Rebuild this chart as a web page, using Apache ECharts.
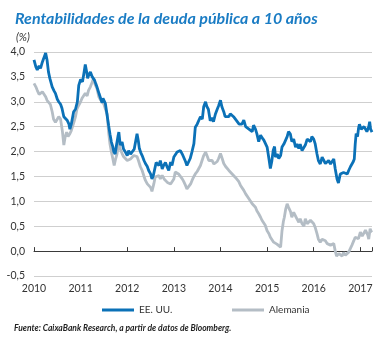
<!DOCTYPE html>
<html>
<head>
<meta charset="utf-8">
<script src="https://cdn.jsdelivr.net/npm/echarts@6/dist/echarts.min.js"></script>
<style>
  html, body { margin: 0; padding: 0; background: #fff; }
  #chart { width: 379px; height: 338px; }
</style>
</head>
<body>
<div id="chart"></div>
<script>
// 10-year government bond yields (%), dates as decimal years
const usDates = [
  2010.00, 2010.04, 2010.07, 2010.11, 2010.14, 2010.18, 2010.20, 2010.25, 2010.28, 2010.31,
  2010.34, 2010.39, 2010.43, 2010.46, 2010.50, 2010.53, 2010.57, 2010.60, 2010.64, 2010.68,
  2010.71, 2010.75, 2010.77, 2010.80, 2010.82, 2010.85, 2010.89, 2010.93, 2010.96, 2011.00,
  2011.04, 2011.07, 2011.10, 2011.13, 2011.15, 2011.18, 2011.21, 2011.25, 2011.28, 2011.30,
  2011.33, 2011.35, 2011.40, 2011.43, 2011.46, 2011.48, 2011.51, 2011.53, 2011.57, 2011.60,
  2011.63, 2011.66, 2011.69, 2011.71, 2011.74, 2011.77, 2011.80, 2011.82, 2011.85, 2011.89,
  2011.92, 2011.96, 2012.00, 2012.03, 2012.07, 2012.10, 2012.15, 2012.18, 2012.21, 2012.24,
  2012.26, 2012.29, 2012.32, 2012.36, 2012.39, 2012.43, 2012.46, 2012.50, 2012.53, 2012.56,
  2012.59, 2012.62, 2012.64, 2012.68, 2012.71, 2012.75, 2012.78, 2012.82, 2012.86, 2012.89,
  2012.93, 2012.96, 2013.00, 2013.04, 2013.07, 2013.10, 2013.14, 2013.18, 2013.21, 2013.25,
  2013.28, 2013.32, 2013.35, 2013.39, 2013.43, 2013.46, 2013.50, 2013.53, 2013.57, 2013.61,
  2013.64, 2013.68, 2013.71, 2013.74, 2013.78, 2013.82, 2013.85, 2013.89, 2013.93, 2013.96,
  2014.00, 2014.03, 2014.07, 2014.10, 2014.14, 2014.18, 2014.21, 2014.25, 2014.28, 2014.32,
  2014.36, 2014.40, 2014.43, 2014.46, 2014.50, 2014.54, 2014.57, 2014.61, 2014.64, 2014.68,
  2014.71, 2014.75, 2014.78, 2014.82, 2014.86, 2014.89, 2014.93, 2014.96, 2015.00, 2015.04,
  2015.07, 2015.10, 2015.13, 2015.16, 2015.18, 2015.22, 2015.25, 2015.29, 2015.32, 2015.36,
  2015.39, 2015.43, 2015.46, 2015.50, 2015.53, 2015.57, 2015.61, 2015.64, 2015.68, 2015.71,
  2015.75, 2015.78, 2015.82, 2015.86, 2015.89, 2015.93, 2015.96, 2016.00, 2016.03, 2016.07,
  2016.10, 2016.14, 2016.18, 2016.21, 2016.25, 2016.29, 2016.32, 2016.36, 2016.39, 2016.43,
  2016.46, 2016.50, 2016.53, 2016.57, 2016.61, 2016.64, 2016.68, 2016.72, 2016.75, 2016.79,
  2016.82, 2016.85, 2016.87, 2016.89, 2016.91, 2016.94, 2016.96, 2016.98, 2017.00, 2017.02,
  2017.05, 2017.08, 2017.11, 2017.14, 2017.16, 2017.18, 2017.20, 2017.22, 2017.25
];
const usYields = [
  3.84, 3.70, 3.64, 3.72, 3.67, 3.80, 3.78, 3.98, 3.84, 3.60,
  3.47, 3.30, 3.22, 3.17, 3.05, 3.00, 2.95, 2.87, 2.70, 2.72,
  2.63, 2.55, 2.45, 2.55, 2.59, 2.80, 2.85, 3.00, 3.33, 3.45,
  3.40, 3.57, 3.75, 3.60, 3.47, 3.55, 3.60, 3.50, 3.47, 3.43,
  3.35, 3.30, 3.15, 3.13, 2.98, 3.07, 3.10, 2.97, 2.93, 2.53,
  2.35, 2.19, 2.10, 2.00, 1.95, 2.13, 2.30, 2.39, 2.13, 2.19,
  2.05, 1.99, 1.92, 2.02, 1.95, 1.99, 2.05, 2.09, 2.36, 2.20,
  2.06, 1.98, 1.92, 1.82, 1.76, 1.70, 1.62, 1.55, 1.45, 1.52,
  1.65, 1.78, 1.79, 1.72, 1.82, 1.65, 1.72, 1.78, 1.68, 1.62,
  1.79, 1.72, 1.89, 1.90, 1.99, 1.95, 2.02, 1.95, 1.92, 1.80,
  1.72, 1.80, 1.86, 2.00, 2.16, 2.49, 2.55, 2.59, 2.70, 2.65,
  2.90, 3.00, 2.90, 2.85, 2.62, 2.68, 2.60, 2.75, 2.85, 2.92,
  3.03, 2.90, 2.80, 2.70, 2.73, 2.70, 2.76, 2.72, 2.70, 2.65,
  2.66, 2.55, 2.59, 2.55, 2.63, 2.50, 2.53, 2.45, 2.49, 2.40,
  2.53, 2.45, 2.36, 2.20, 2.33, 2.28, 2.23, 2.17, 2.09, 1.85,
  1.66, 1.80, 2.02, 2.10, 1.89, 1.95, 1.86, 1.92, 2.09, 2.15,
  2.19, 2.30, 2.40, 2.35, 2.20, 2.25, 2.09, 2.15, 2.06, 2.15,
  2.02, 2.05, 2.13, 2.25, 2.23, 2.20, 2.30, 2.25, 2.16, 1.95,
  1.82, 1.75, 1.89, 1.90, 1.76, 1.80, 1.82, 1.75, 1.72, 1.85,
  1.66, 1.45, 1.37, 1.55, 1.52, 1.58, 1.59, 1.55, 1.62, 1.70,
  1.69, 1.80, 1.85, 2.15, 2.36, 2.30, 2.46, 2.55, 2.59, 2.45,
  2.43, 2.50, 2.46, 2.40, 2.36, 2.50, 2.60, 2.45, 2.39
];
const deDates = [
  2010.00, 2010.04, 2010.07, 2010.11, 2010.14, 2010.18, 2010.21, 2010.25, 2010.28, 2010.32,
  2010.35, 2010.39, 2010.42, 2010.46, 2010.50, 2010.53, 2010.57, 2010.61, 2010.64, 2010.67,
  2010.70, 2010.73, 2010.77, 2010.80, 2010.82, 2010.86, 2010.89, 2010.92, 2010.96, 2011.00,
  2011.03, 2011.07, 2011.10, 2011.14, 2011.17, 2011.21, 2011.25, 2011.28, 2011.31, 2011.35,
  2011.39, 2011.42, 2011.46, 2011.50, 2011.54, 2011.57, 2011.60, 2011.63, 2011.66, 2011.69,
  2011.72, 2011.75, 2011.78, 2011.82, 2011.85, 2011.89, 2011.92, 2011.96, 2012.00, 2012.03,
  2012.07, 2012.10, 2012.14, 2012.18, 2012.21, 2012.24, 2012.28, 2012.32, 2012.36, 2012.39,
  2012.43, 2012.46, 2012.50, 2012.53, 2012.57, 2012.60, 2012.64, 2012.68, 2012.71, 2012.75,
  2012.79, 2012.82, 2012.86, 2012.89, 2012.93, 2012.96, 2013.00, 2013.03, 2013.07, 2013.10,
  2013.14, 2013.18, 2013.21, 2013.25, 2013.28, 2013.32, 2013.36, 2013.39, 2013.43, 2013.46,
  2013.50, 2013.53, 2013.57, 2013.61, 2013.64, 2013.68, 2013.71, 2013.75, 2013.79, 2013.82,
  2013.86, 2013.89, 2013.93, 2013.96, 2014.00, 2014.04, 2014.07, 2014.11, 2014.14, 2014.18,
  2014.21, 2014.25, 2014.28, 2014.32, 2014.36, 2014.39, 2014.43, 2014.46, 2014.50, 2014.54,
  2014.57, 2014.61, 2014.64, 2014.68, 2014.71, 2014.75, 2014.78, 2014.82, 2014.86, 2014.89,
  2014.93, 2014.96, 2015.00, 2015.04, 2015.07, 2015.11, 2015.14, 2015.18, 2015.21, 2015.25,
  2015.29, 2015.32, 2015.35, 2015.37, 2015.40, 2015.43, 2015.46, 2015.50, 2015.53, 2015.57,
  2015.61, 2015.64, 2015.68, 2015.71, 2015.75, 2015.79, 2015.82, 2015.86, 2015.89, 2015.93,
  2015.96, 2016.00, 2016.03, 2016.07, 2016.10, 2016.14, 2016.18, 2016.21, 2016.25, 2016.29,
  2016.32, 2016.36, 2016.39, 2016.43, 2016.46, 2016.49, 2016.51, 2016.54, 2016.57, 2016.61,
  2016.64, 2016.68, 2016.71, 2016.75, 2016.78, 2016.82, 2016.86, 2016.89, 2016.93, 2016.96,
  2017.00, 2017.04, 2017.07, 2017.11, 2017.13, 2017.16, 2017.18, 2017.21, 2017.23, 2017.25
];
const deYields = [
  3.37, 3.30, 3.23, 3.15, 3.13, 3.20, 3.17, 3.10, 3.03, 3.05,
  2.95, 2.80, 2.65, 2.59, 2.62, 2.70, 2.65, 2.40, 2.13, 2.30,
  2.39, 2.30, 2.36, 2.42, 2.46, 2.60, 2.70, 2.85, 2.93, 3.00,
  3.07, 3.10, 3.17, 3.12, 3.23, 3.30, 3.40, 3.47, 3.35, 3.27,
  3.10, 3.05, 3.03, 2.95, 2.83, 2.75, 2.39, 2.15, 1.99, 1.86,
  1.72, 1.85, 1.95, 2.20, 2.05, 1.96, 1.90, 1.86, 1.82, 1.82,
  1.85, 1.89, 1.92, 1.96, 1.90, 1.82, 1.70, 1.62, 1.50, 1.42,
  1.35, 1.32, 1.28, 1.20, 1.35, 1.49, 1.45, 1.52, 1.45, 1.52,
  1.45, 1.45, 1.38, 1.42, 1.35, 1.39, 1.45, 1.59, 1.62, 1.55,
  1.55, 1.45, 1.40, 1.32, 1.25, 1.22, 1.35, 1.42, 1.50, 1.55,
  1.60, 1.62, 1.72, 1.70, 1.92, 1.99, 1.92, 1.82, 1.78, 1.82,
  1.75, 1.72, 1.80, 1.86, 1.96, 1.85, 1.76, 1.70, 1.69, 1.62,
  1.59, 1.55, 1.55, 1.48, 1.45, 1.40, 1.32, 1.28, 1.22, 1.15,
  1.12, 1.05, 1.02, 0.95, 0.92, 0.88, 0.81, 0.75, 0.68, 0.62,
  0.58, 0.52, 0.41, 0.35, 0.28, 0.32, 0.18, 0.20, 0.14, 0.10,
  0.08, 0.41, 0.60, 0.68, 0.85, 0.95, 0.88, 0.80, 0.68, 0.78,
  0.75, 0.65, 0.58, 0.65, 0.55, 0.50, 0.65, 0.55, 0.58, 0.62,
  0.61, 0.55, 0.48, 0.35, 0.24, 0.18, 0.24, 0.28, 0.21, 0.15,
  0.18, 0.12, 0.11, 0.15, 0.01, -0.10, -0.13, -0.05, -0.06, -0.10,
  -0.03, -0.08, -0.06, -0.02, 0.04, 0.12, 0.21, 0.28, 0.31, 0.25,
  0.38, 0.30, 0.31, 0.42, 0.45, 0.32, 0.24, 0.45, 0.40, 0.38
];
const yearTicks = [2010, 2011, 2012, 2013, 2014, 2015, 2016, 2017];
const seriesNames = ['EE. UU.', 'Alemania'];

const BLUE = '#0b71b7';
const GREY = '#b4bdc5';
const TEXT = '#333333';
const FONT = 'Lato, "Open Sans", sans-serif';

const pairs = (xs, ys) => xs.map((x, i) => [x, ys[i]]);
const xMin = yearTicks[0];
const xMax = 2017.25;

const chart = echarts.init(document.getElementById('chart'), null, { renderer: 'canvas' });

const xBase = {
  type: 'value',
  min: xMin,
  max: xMax,
  interval: 1,
  gridIndex: 0
};

chart.setOption({
  animation: false,
  backgroundColor: '#ffffff',
  textStyle: { fontFamily: FONT },
  title: [
    {
      text: 'Rentabilidades de la deuda pública a 10 años',
      left: 10, top: 6,
      textStyle: { color: '#1a7cc4', fontSize: 16, fontWeight: 'bold', fontStyle: 'italic', fontFamily: FONT }
    },
    {
      text: '(%)',
      left: 11, top: 27,
      textStyle: { color: TEXT, fontSize: 11, fontWeight: 'normal', fontStyle: 'italic', fontFamily: FONT }
    },
    {
      text: '{b|Fuente:}{n| CaixaBank Research, a partir de datos de Bloomberg.}',
      left: 9, top: 319,
      textStyle: {
        rich: {
          b: { fontSize: 8.5, fontWeight: 'bold', fontStyle: 'italic', color: '#222', fontFamily: FONT },
          n: { fontSize: 8.5, fontStyle: 'italic', color: '#222', fontFamily: FONT }
        }
      }
    }
  ],
  legend: [
    {
      data: [seriesNames[0]],
      left: 97, top: 300,
      icon: 'rect', itemWidth: 32, itemHeight: 3,
      textStyle: { color: TEXT, fontSize: 10, fontFamily: FONT }
    },
    {
      data: [seriesNames[1]],
      left: 227, top: 300,
      icon: 'rect', itemWidth: 32, itemHeight: 3,
      textStyle: { color: TEXT, fontSize: 10, fontFamily: FONT }
    }
  ],
  grid: { left: 34, right: 7, top: 52, bottom: 62, containLabel: false },
  xAxis: [
    Object.assign({}, xBase, {
      position: 'bottom',
      axisLine: { show: false, onZero: false },
      axisTick: { show: false },
      splitLine: { show: false },
      axisLabel: {
        color: TEXT, fontSize: 10.5, margin: 7, fontFamily: FONT,
        showMaxLabel: false,
        formatter: v => (yearTicks.includes(Math.round(v)) && Math.abs(v - Math.round(v)) < 1e-6) ? String(Math.round(v)) : ''
      }
    }),
    Object.assign({}, xBase, {
      position: 'bottom',
      axisLine: { show: true, onZero: true, lineStyle: { color: '#3a3a3a', width: 1 } },
      axisTick: { show: true, inside: true, length: 4, lineStyle: { color: '#3a3a3a', width: 1 } },
      splitLine: { show: false },
      axisLabel: { show: false }
    })
  ],
  yAxis: {
    type: 'value',
    min: -0.5,
    max: 4,
    interval: 0.5,
    axisLine: { show: false },
    axisTick: { show: false },
    splitLine: { lineStyle: { color: '#cfcfcf', width: 1 } },
    axisLabel: {
      color: TEXT, fontSize: 10.5, margin: 9, fontFamily: FONT,
      formatter: v => v.toFixed(1).replace('.', ',')
    }
  },
  series: [
    {
      name: seriesNames[1],
      type: 'line',
      xAxisIndex: 0,
      data: pairs(deDates, deYields),
      showSymbol: false,
      color: GREY,
      lineStyle: { color: GREY, width: 2.8 },
      z: 2
    },
    {
      name: seriesNames[0],
      type: 'line',
      xAxisIndex: 0,
      data: pairs(usDates, usYields),
      showSymbol: false,
      color: BLUE,
      lineStyle: { color: BLUE, width: 2.8 },
      z: 3
    }
  ]
});
</script>
</body>
</html>
